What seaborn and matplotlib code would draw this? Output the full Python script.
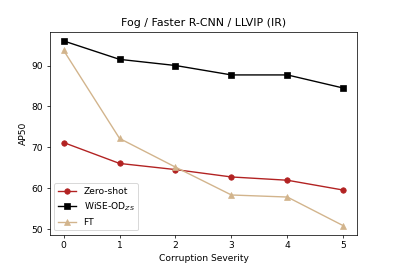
import matplotlib
matplotlib.use("Agg")
import matplotlib.pyplot as plt
import seaborn as sns
import pandas as pd

severity = [0, 1, 2, 3, 4, 5]
zero_shot = [71.2, 66.1, 64.6, 62.8, 62.0, 59.6]
wise_od = [96.0, 91.5, 90.0, 87.7, 87.7, 84.5]
ft = [93.7, 72.2, 65.2, 58.4, 57.9, 50.9]

labels = ["Zero-shot", "WiSE-OD$_{ZS}$", "FT"]
colors = ["#b22222", "#000000", "#d2b48c"]
markers = ["o", "s", "^"]

plt.rcParams['font.family'] = ['DejaVu Sans']
fig, ax = plt.subplots(figsize=(397/66, 264/66), dpi=66)

for vals, lab, col, mk in zip([zero_shot, wise_od, ft], labels, colors, markers):
    df = pd.DataFrame({"x": severity, "y": vals})
    sns.lineplot(data=df, x="x", y="y", ax=ax, color=col, marker=mk,
                 markersize=6, markeredgecolor=col, linewidth=1.5, label=lab)

ax.set_title("Fog / Faster R-CNN / LLVIP (IR)")
ax.set_xlabel("Corruption Severity")
ax.set_ylabel("AP50")
ax.set_xticks(severity)
ax.set_yticks([50, 60, 70, 80, 90])
ax.legend(loc="lower left")
fig.savefig("out.png", dpi=66)
